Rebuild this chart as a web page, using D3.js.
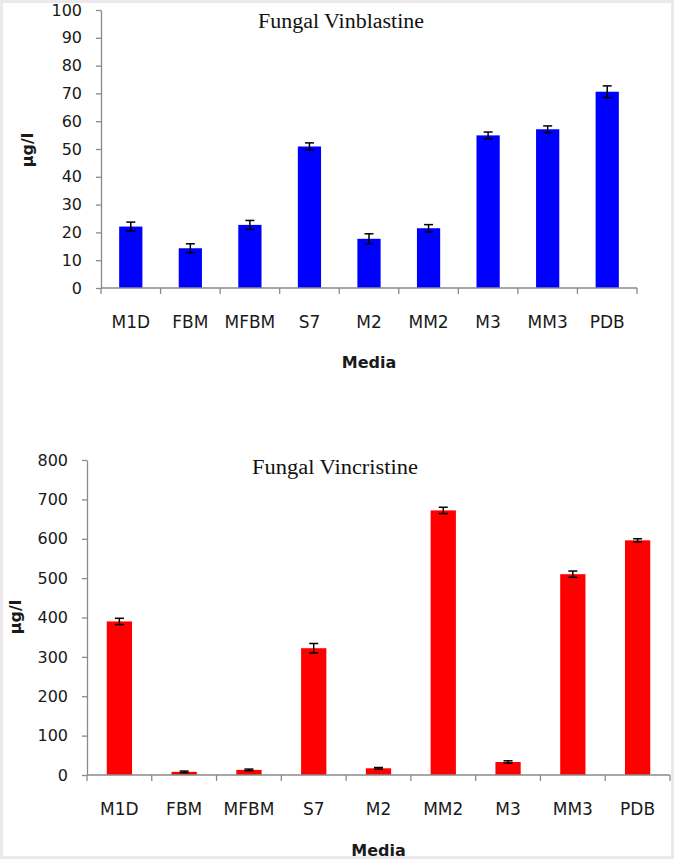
<!DOCTYPE html>
<html>
<head>
<meta charset="utf-8">
<script src="https://cdn.jsdelivr.net/npm/d3@7"></script>
<style>
  html, body { margin: 0; padding: 0; background: #fff; }
  svg { display: block; }
</style>
</head>
<body>
<div id="chart"></div>
<script>
// ---- data ----
const categories = ["M1D", "FBM", "MFBM", "S7", "M2", "MM2", "M3", "MM3", "PDB"];
const vinblastine = [22.1, 14.3, 22.7, 50.9, 17.7, 21.5, 54.9, 57.1, 70.6];
const vinblastineErr = [1.6, 1.6, 1.6, 1.3, 1.8, 1.3, 1.2, 1.2, 2.1];
const vincristine = [390, 8, 13, 322, 17, 672, 33, 510, 596];
const vincristineErr = [8, 2, 2, 12, 2, 8, 3, 8, 4];
const vinblastineTicks = [0, 10, 20, 30, 40, 50, 60, 70, 80, 90, 100];
const vincristineTicks = [0, 100, 200, 300, 400, 500, 600, 700, 800];

const W = 674, H = 859;
const svg = d3.select("#chart").append("svg").attr("width", W).attr("height", H);

svg.append("rect").attr("x", 1.5).attr("y", 1.5).attr("width", W - 3).attr("height", H - 3)
  .attr("fill", "#fff").attr("stroke", "#ece8ec").attr("stroke-width", 3);

function drawPanel(cfg) {
  const g = svg.append("g");
  const x = d3.scaleBand().domain(categories)
    .range([cfg.x0, cfg.x1]).paddingInner(0.61).paddingOuter(0.305);
  const y = d3.scaleLinear().domain([0, cfg.max]).range([cfg.y0, cfg.y1]);

  // y axis
  const yAxis = d3.axisLeft(y).tickValues(cfg.ticks).tickSize(5).tickPadding(14).tickSizeOuter(0);
  const ya = g.append("g").attr("transform", `translate(${cfg.x0},0)`).call(yAxis);
  ya.select(".domain").attr("stroke", "#8a8a8a").attr("stroke-width", 1.3);
  ya.selectAll(".tick line").attr("stroke", "#8a8a8a").attr("stroke-width", 1.3);
  ya.selectAll(".tick text").attr("font-family", "DejaVu Sans").attr("font-size", cfg.tickFont)
    .attr("fill", "#1a1a1a");

  // bars
  g.selectAll(".bar").data(categories).enter().append("rect")
    .attr("x", d => x(d))
    .attr("y", (d, i) => y(cfg.values[i]))
    .attr("width", x.bandwidth())
    .attr("height", (d, i) => cfg.y0 - y(cfg.values[i]))
    .attr("fill", cfg.color);

  // error bars
  const eg = g.append("g").attr("stroke", "#000").attr("stroke-width", 1.5);
  categories.forEach((c, i) => {
    const cx = x(c) + x.bandwidth() / 2;
    const hi = y(cfg.values[i] + cfg.errs[i]);
    const lo = y(cfg.values[i] - cfg.errs[i]);
    eg.append("line").attr("x1", cx).attr("x2", cx).attr("y1", hi).attr("y2", lo);
    eg.append("line").attr("x1", cx - 4.5).attr("x2", cx + 4.5).attr("y1", hi).attr("y2", hi);
    eg.append("line").attr("x1", cx - 4.5).attr("x2", cx + 4.5).attr("y1", lo).attr("y2", lo);
  });

  // x axis
  g.append("line").attr("x1", cfg.x0).attr("x2", cfg.x1).attr("y1", cfg.y0).attr("y2", cfg.y0)
    .attr("stroke", "#8a8a8a").attr("stroke-width", 1.3);
  const step = x.step();
  d3.range(categories.length + 1).forEach(i => {
    const tx = cfg.x0 + i * step;
    g.append("line").attr("x1", tx).attr("x2", tx).attr("y1", cfg.y0).attr("y2", cfg.y0 + 6)
      .attr("stroke", "#8a8a8a").attr("stroke-width", 1.3);
  });
  g.selectAll(".xl").data(categories).enter().append("text")
    .attr("x", d => x(d) + x.bandwidth() / 2)
    .attr("y", cfg.labelY)
    .attr("text-anchor", "middle")
    .attr("font-family", "DejaVu Sans").attr("font-size", 17).attr("fill", "#1a1a1a")
    .text(d => d);

  // axis titles
  g.append("text").attr("x", (cfg.x0 + cfg.x1) / 2).attr("y", cfg.mediaY)
    .attr("text-anchor", "middle").attr("font-family", "DejaVu Sans").attr("font-weight", "bold")
    .attr("font-size", 16).attr("fill", "#1a1a1a").text("Media");
  g.append("text").attr("transform", `translate(${cfg.ylabX},${cfg.ylabY}) rotate(-90)`)
    .attr("text-anchor", "middle").attr("dominant-baseline", "middle")
    .attr("font-family", "DejaVu Sans").attr("font-weight", "bold")
    .attr("font-size", 16).attr("fill", "#1a1a1a").text("μg/l");

  // chart title
  g.append("text").attr("x", cfg.titleX).attr("y", cfg.titleY)
    .attr("text-anchor", "middle").attr("font-family", "Liberation Serif")
    .attr("font-size", 20).attr("fill", "#111")
    .attr("textLength", 166).attr("lengthAdjust", "spacingAndGlyphs")
    .text(cfg.title);
}

drawPanel({
  x0: 101, x1: 637, y0: 288, y1: 10, max: 100,
  ticks: vinblastineTicks, values: vinblastine, errs: vinblastineErr,
  color: "#0000ff", tickFont: 16, labelY: 328, mediaY: 368,
  ylabX: 28, ylabY: 150, title: "Fungal Vinblastine", titleX: 341, titleY: 28
});

drawPanel({
  x0: 87, x1: 670, y0: 775, y1: 460, max: 800,
  ticks: vincristineTicks, values: vincristine, errs: vincristineErr,
  color: "#ff0000", tickFont: 16, labelY: 815, mediaY: 856,
  ylabX: 16, ylabY: 617, title: "Fungal Vincristine", titleX: 335, titleY: 474
});
</script>
</body>
</html>
